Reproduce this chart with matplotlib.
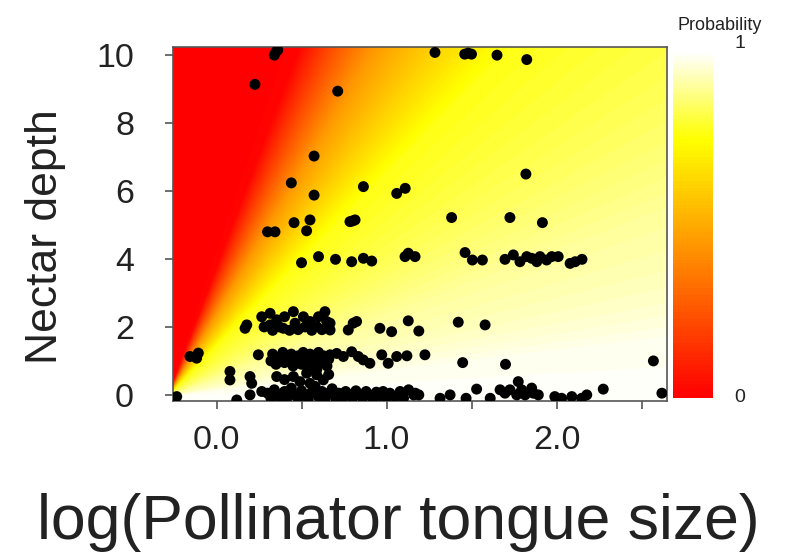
import numpy as np
import matplotlib
matplotlib.use("Agg")
import matplotlib.pyplot as plt
from matplotlib.colors import ListedColormap

# ---------------- data ----------------
tongue = [
    # depth ~10
    0.34, 0.35, 0.36, 1.285, 1.46, 1.48, 1.50, 1.65, 1.825,
    0.226, 0.713,
    # depth ~6-7
    0.574, 0.44, 0.574, 0.864, 1.06, 1.11, 1.82,
    # depth ~5
    0.456, 0.55, 0.53, 0.30, 0.344, 0.785, 0.80, 0.815, 1.383, 1.726, 1.917,
    # depth ~4
    0.50, 0.60, 0.70, 0.795, 0.864, 0.913, 1.109, 1.128, 1.168, 1.462, 1.505,
    1.564, 1.697, 1.746, 1.785, 1.825, 1.854, 1.884, 1.903, 1.942, 1.972,
    2.01, 2.08, 2.11, 2.15,
    # depth ~2
    0.168, 0.178, 0.266, 0.28, 0.315, 0.315, 0.33, 0.354, 0.37, 0.393, 0.40,
    0.43, 0.452, 0.462, 0.48, 0.511, 0.52, 0.55, 0.56, 0.589, 0.60, 0.62,
    0.638, 0.648, 0.668, 0.668,
    0.775, 0.804, 0.824, 0.961, 1.03, 1.128, 1.19, 1.422, 1.58,
    # depth ~1
    -0.156, -0.117, -0.107, 0.246,
    0.32, 0.33, 0.35, 0.37, 0.39, 0.40, 0.42, 0.44, 0.45, 0.46, 0.48, 0.50,
    0.51, 0.52, 0.54, 0.55, 0.56, 0.58, 0.59, 0.60, 0.62, 0.63, 0.65, 0.66,
    0.668, 0.707, 0.746, 0.795, 0.834, 0.863, 0.902, 0.972, 1.01, 1.06,
    1.12, 1.226, 1.448, 1.70, 2.57,
    # depth ~0.5
    0.079, 0.079, 0.197, 0.207, 0.354, 0.40, 0.452, 0.491, 0.53, 0.55,
    0.589, 0.628, 0.66,
    # depth ~0
    -0.234, 0.119, 0.197, 0.266,
    0.30, 0.32, 0.34, 0.36, 0.38, 0.40, 0.42, 0.44, 0.46, 0.48, 0.50, 0.52,
    0.54, 0.56, 0.58, 0.60, 0.62, 0.64, 0.66, 0.68, 0.70, 0.72, 0.74, 0.76,
    0.78, 0.80, 0.82, 0.84, 0.86, 0.88, 0.90, 0.92, 0.94, 0.96, 0.98, 1.00,
    1.02, 1.05, 1.08, 1.10, 1.13, 1.16, 1.17, 1.19,
    1.315, 1.374, 1.468, 1.53, 1.61, 1.668, 1.697, 1.726, 1.766, 1.775,
    1.795, 1.815, 1.854, 1.864, 1.893, 1.99, 2.03, 2.09, 2.148, 2.178,
    2.275, 2.62,
]
depth = [
    10.0, 10.1, 10.15, 10.08, 10.03, 10.06, 10.03, 10.0, 9.87,
    9.14, 8.94,
    7.03, 6.24, 5.88, 6.13, 5.93, 6.08, 6.5,
    5.07, 5.15, 4.83, 4.80, 4.80, 5.1, 5.12, 5.15, 5.22, 5.22, 5.07,
    3.89, 4.07, 3.99, 3.92, 4.02, 3.94, 4.07, 4.17, 4.07, 4.19, 3.97,
    3.97, 3.99, 4.12, 3.92, 4.07, 4.02, 3.92, 4.07, 3.97, 4.07,
    4.07, 3.87, 3.92, 3.99,
    1.96, 2.06, 2.30, 2.0, 2.40, 2.06, 1.9, 2.21, 2.0, 1.96, 2.3,
    1.9, 2.45, 2.11, 1.92, 2.30, 2.0, 2.16, 1.9, 2.01, 2.3, 1.92,
    2.45, 2.16, 1.91, 2.11,
    1.91, 2.11, 2.16, 1.96, 1.86, 2.18, 1.88, 2.14, 2.06,
    1.13, 1.08, 1.23, 1.18,
    1.0, 1.2, 0.9, 1.1, 1.25, 0.95, 1.1, 1.2, 0.85, 1.0, 1.15, 0.9,
    1.25, 1.05, 0.8, 1.2, 0.95, 1.1, 0.75, 1.25, 0.95, 1.15, 0.85, 1.05,
    1.18, 1.22, 1.13, 1.27, 1.13, 1.03, 0.93, 1.18, 0.93, 1.13,
    1.15, 1.18, 0.95, 0.90, 1.0,
    0.69, 0.44, 0.54, 0.34, 0.54, 0.45, 0.54, 0.39, 0.64, 0.34,
    0.59, 0.44, 0.6,
    -0.05, -0.15, 0.0, 0.1,
    0.05, -0.1, 0.15, 0.0, -0.12, 0.1, -0.05, 0.2, 0.0, -0.1, 0.12, 0.0,
    -0.12, 0.08, 0.25, -0.05, 0.1, -0.1, 0.05, 0.18, -0.08, 0.05, -0.12, 0.1,
    0.0, -0.1, 0.12, 0.0, -0.08, 0.1, 0.0, -0.12, 0.08, -0.02, 0.1, -0.1,
    0.05, -0.05, 0.1, -0.1, 0.15, 0.0, 0.05, 0.0,
    -0.1, 0.0, -0.1, 0.17, -0.1, 0.15, 0.05, 0.15, 0.0, 0.39,
    0.15, 0.0, 0.2, 0.05, 0.0, -0.05, -0.1, -0.05, -0.1, 0.0,
    0.17, 0.05,
]

x_ticks = [0.0, 0.5, 1.0, 1.5, 2.0, 2.5]
x_ticklabels = ["0.0", "", "1.0", "", "2.0", ""]
y_ticks = [0, 2, 4, 6, 8, 10]
y_ticklabels = ["0", "2", "4", "6", "8", "10"]
cbar_labels = ["0", "1"]

# ---------------- colormap like R heat.colors ----------------
def heat_colors(n):
    j = n // 4
    i = n - j
    cols = []
    for h in np.linspace(0, 1 / 6, i):
        cols.append((1.0, h * 6, 0.0))
    for s in np.linspace(1 - 1 / (2 * j), 1 / (2 * j), j):
        cols.append((1.0, 1.0, 1 - s))
    return cols

cmap = ListedColormap(heat_colors(100))

# ---------------- probability surface ----------------
xmin, xmax = -0.256, 2.65
ymin, ymax = -0.18, 10.24
gx = np.linspace(xmin, xmax, 600)
gy = np.linspace(ymin, ymax, 600)
X, Y = np.meshgrid(gx, gy)
x0, y0 = -0.29, -0.05
dx = X - x0
dy = Y - y0
with np.errstate(divide="ignore", invalid="ignore"):
    s = np.where(dy > 0, dx / dy, 1e6)
    ls = np.log(np.clip(s, 1e-6, None))
nodes = [-2.8, -2.58, -2.13, -1.63, -1.24, -0.6, 0.58, 2.5]
vals = [0.0, 0.02, 0.45, 0.77, 0.82, 0.905, 0.985, 1.0]
P = np.interp(ls, nodes, vals)

# ---------------- figure ----------------
plt.rcParams["font.family"] = ["Liberation Sans", "DejaVu Sans"]
fig = plt.figure(figsize=(7.96, 5.58), dpi=100)

ax = fig.add_axes([173 / 796, 1 - 401 / 558, (667 - 173) / 796, (401 - 47) / 558])
ax.imshow(P, origin="lower", extent=[xmin, xmax, ymin, ymax], aspect="auto",
          cmap=cmap, vmin=0, vmax=1, interpolation="bilinear")
ax.scatter(tongue, depth, s=62, c="black", edgecolors="none", zorder=3)
ax.set_xlim(xmin, xmax)
ax.set_ylim(ymin, ymax)

for sp in ax.spines.values():
    sp.set_color("#555555")
    sp.set_linewidth(1.2)

ax.set_xticks(x_ticks)
ax.set_xticklabels(x_ticklabels, fontsize=24.5, color="#222222")
ax.set_yticks(y_ticks)
ax.set_yticklabels(y_ticklabels, fontsize=24.5, color="#222222")
ax.tick_params(axis="both", direction="out", length=6, width=1.2, color="#555555")
ax.tick_params(axis="x", pad=11)
ax.tick_params(axis="y", pad=22)

fig.text(0.5, 1 - 523 / 558, "log(Pollinator tongue size)", fontsize=45,
         ha="center", va="center", color="#222222")
fig.text(45 / 796, 1 - 237 / 558, "Nectar depth", fontsize=32, rotation=90,
         ha="center", va="center", color="#222222")

# colour bar
cax = fig.add_axes([673 / 796, 1 - 398 / 558, 40 / 796, (398 - 53) / 558])
grad = np.linspace(0, 1, 100).reshape(-1, 1)
cax.imshow(grad, origin="lower", aspect="auto", cmap=cmap, vmin=0, vmax=1,
           extent=[0, 1, 0, 1], interpolation="nearest")
cax.set_axis_off()
fig.text(720 / 796, 1 - 25 / 558, "Probability", fontsize=13, ha="center",
         va="center", color="#222222")
fig.text(740 / 796, 1 - 44 / 558, cbar_labels[1], fontsize=14, ha="center",
         va="center", color="#222222")
fig.text(740 / 796, 1 - 398 / 558, cbar_labels[0], fontsize=14, ha="center",
         va="center", color="#222222")

fig.savefig("out.png", dpi=100)
